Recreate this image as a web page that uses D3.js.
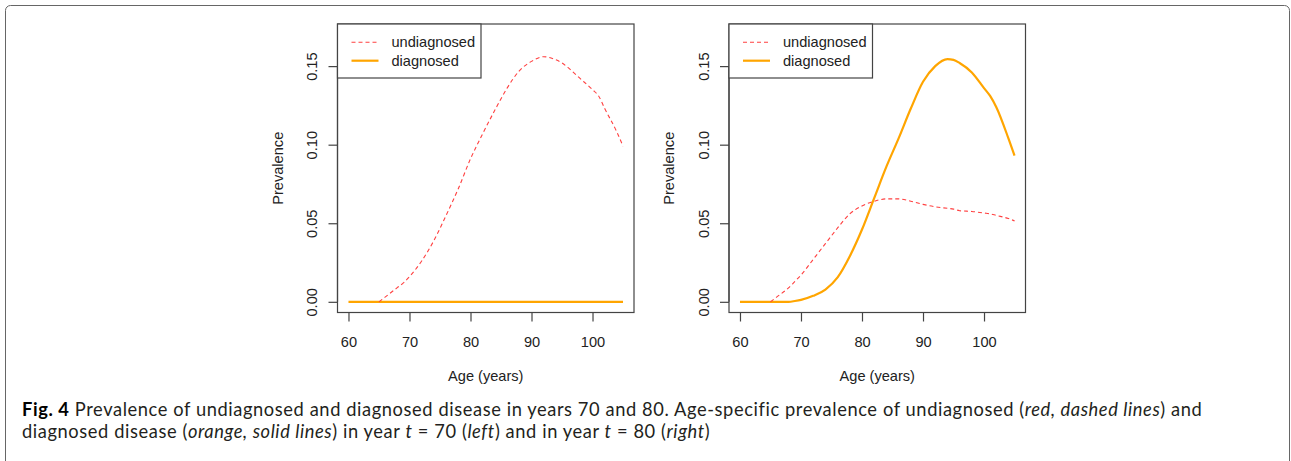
<!DOCTYPE html>
<html>
<head>
<meta charset="utf-8">
<script src="https://cdn.jsdelivr.net/npm/d3@7/dist/d3.min.js"></script>
<style>
  html, body { margin: 0; padding: 0; background: #fff; }
  svg { display: block; }
</style>
</head>
<body>
<svg id="chart" width="1291" height="461"></svg>
<script>
// ---------------- data ----------------
const ages = [60, 62, 64, 65, 66, 68, 69, 70, 72, 74, 76, 78, 80, 82, 84, 86, 88, 90, 92, 94, 95, 96, 98, 100, 101, 102, 104, 105];

// year t = 70 (left panel)
const undiag70 = [0, 0, 0, 0, 0.003, 0.009, 0.012, 0.016, 0.026, 0.039, 0.055, 0.072, 0.091, 0.107, 0.122, 0.136, 0.147, 0.153, 0.156, 0.154, 0.152, 0.149, 0.142, 0.135, 0.131, 0.123, 0.108, 0.099];
const diag70   = [0, 0, 0, 0, 0, 0, 0, 0, 0, 0, 0, 0, 0, 0, 0, 0, 0, 0, 0, 0, 0, 0, 0, 0, 0, 0, 0, 0];

// year t = 80 (right panel)
const undiag80 = [0, 0, 0, 0, 0.003, 0.009, 0.013, 0.017, 0.027, 0.037, 0.047, 0.056, 0.061, 0.064, 0.0655, 0.0655, 0.064, 0.062, 0.0605, 0.0595, 0.059, 0.058, 0.0575, 0.0565, 0.056, 0.055, 0.053, 0.0515];
const diag80   = [0, 0, 0, 0, 0, 0, 0.0005, 0.0012, 0.0038, 0.0078, 0.0155, 0.029, 0.046, 0.066, 0.086, 0.104, 0.123, 0.140, 0.150, 0.1545, 0.154, 0.152, 0.146, 0.136, 0.131, 0.124, 0.104, 0.093];

const xTicks = [60, 70, 80, 90, 100];
const yTicks = [0, 0.05, 0.10, 0.15];
const legendLabels = ["undiagnosed", "diagnosed"];
const xLabel = "Age (years)";
const yLabel = "Prevalence";

// ---------------- drawing ----------------
const svg = d3.select("#chart");
const AX = "#222";
const RED = "#ff4040";
const ORANGE = "#ffa500";
const plotFont = "'Liberation Sans', Arial, sans-serif";
const PFS = 14.6;

// outer frame
svg.append("rect")
  .attr("x", 5.5).attr("y", 5.5)
  .attr("width", 1284).attr("height", 480)
  .attr("rx", 5).attr("ry", 5)
  .attr("fill", "none").attr("stroke", "#666").attr("stroke-width", 1);

function panel(left, undiag, diag) {
  const top = 24, width = 296.5, height = 288.5;
  const right = left + width, bottom = top + height;
  const x = d3.scaleLinear().domain([58.2, 106.8]).range([left, right]);
  const y = d3.scaleLinear().domain([-0.0068, 0.1768]).range([bottom, top]);
  const g = svg.append("g");

  // box
  g.append("rect")
    .attr("x", left).attr("y", top).attr("width", width).attr("height", height)
    .attr("fill", "none").attr("stroke", "#444").attr("stroke-width", 1.2);

  // x axis
  const xAxis = d3.axisBottom(x).tickValues(xTicks).tickSize(9).tickSizeOuter(0)
    .tickFormat(d3.format("d"));
  const gx = g.append("g").attr("transform", `translate(0,${bottom})`).call(xAxis);
  gx.select(".domain").attr("d", `M${x(60)},0H${x(100)}`).attr("stroke", "#444").attr("stroke-width", 1.2);
  gx.selectAll(".tick line").attr("stroke", "#444").attr("stroke-width", 1.2);
  gx.selectAll(".tick text").attr("fill", AX).attr("font-family", plotFont).attr("font-size", PFS)
    .attr("dy", null).attr("y", 346.5 - bottom);

  // y axis
  const yAxis = d3.axisLeft(y).tickValues(yTicks).tickSize(9).tickSizeOuter(0)
    .tickFormat(d3.format(".2f"));
  const gy = g.append("g").attr("transform", `translate(${left},0)`).call(yAxis);
  gy.select(".domain").attr("d", `M0,${y(0)}V${y(0.15)}`).attr("stroke", "#444").attr("stroke-width", 1.2);
  gy.selectAll(".tick line").attr("stroke", "#444").attr("stroke-width", 1.2);
  gy.selectAll(".tick text")
    .attr("fill", AX).attr("font-family", plotFont).attr("font-size", PFS)
    .attr("x", null).attr("dy", null)
    .attr("text-anchor", "middle")
    .attr("transform", "translate(-20.5,0) rotate(-90)")
    .attr("y", 0);

  // axis titles
  g.append("text")
    .attr("x", (left + right) / 2).attr("y", 381)
    .attr("text-anchor", "middle").attr("fill", AX)
    .attr("font-family", plotFont).attr("font-size", PFS)
    .text(xLabel);
  g.append("text")
    .attr("transform", `translate(${left - 55},${(top + bottom) / 2}) rotate(-90)`)
    .attr("text-anchor", "middle").attr("fill", AX)
    .attr("font-family", plotFont).attr("font-size", PFS)
    .text(yLabel);

  // lines
  const line = d3.line().x(d => x(d[0])).y(d => y(d[1])).curve(d3.curveMonotoneX);
  g.append("path")
    .datum(ages.map((a, i) => [a, diag[i]]))
    .attr("d", line).attr("fill", "none")
    .attr("stroke", ORANGE).attr("stroke-width", 2.2);
  // undiagnosed dashed: visible part (from age 65 where it leaves zero)
  g.append("path")
    .datum(ages.map((a, i) => [a, undiag[i]]).filter(d => d[0] >= 65))
    .attr("d", line).attr("fill", "none")
    .attr("stroke", RED).attr("stroke-width", 1.1)
    .attr("stroke-dasharray", "4,3");

  // legend
  const lw = 143.5, lh = 54;
  const lg = g.append("g");
  lg.append("rect")
    .attr("x", left).attr("y", top).attr("width", lw).attr("height", lh)
    .attr("fill", "#fff").attr("stroke", "#444").attr("stroke-width", 1.2);
  const rows = [
    { label: legendLabels[0], color: RED, w: 1.1, dash: "4,3" },
    { label: legendLabels[1], color: ORANGE, w: 2.2, dash: null }
  ];
  const rowY = [top + 18.3, top + 36.7];
  rows.forEach((r, i) => {
    lg.append("line")
      .attr("x1", left + 14).attr("x2", left + 41)
      .attr("y1", rowY[i]).attr("y2", rowY[i])
      .attr("stroke", r.color).attr("stroke-width", r.w)
      .attr("stroke-dasharray", r.dash);
    lg.append("text")
      .attr("x", left + 54).attr("y", rowY[i] + 5)
      .attr("fill", AX).attr("font-family", plotFont).attr("font-size", PFS)
      .text(r.label);
  });
}

panel(337.5, undiag70, diag70);
panel(729, undiag80, diag80);

// ---------------- caption ----------------
const capFont = "Lato, 'Open Sans', sans-serif";
const capLines = [
  [["Fig. 4", "b"], [" Prevalence of undiagnosed and diagnosed disease in years 70 and 80. Age-specific prevalence of undiagnosed (", "n"], ["red, dashed lines", "i"], [") and", "n"]],
  [["diagnosed disease (", "n"], ["orange, solid lines", "i"], [") in year ", "n"], ["t", "i"], [" = 70 (", "n"], ["left", "i"], [") and in year ", "n"], ["t", "i"], [" = 80 (", "n"], ["right", "i"], [")", "n"]]
];
const capY = [415.7, 437.7];
const capFS = 18.3;
const capTexts = capLines.map((parts, li) => {
  const t = svg.append("text")
    .attr("x", 22).attr("y", capY[li])
    .attr("font-family", capFont).attr("font-size", capFS).attr("fill", "#231f20")
    .style("white-space", "pre");
  parts.forEach(([s, k]) => {
    const ts = t.append("tspan").text(s);
    if (k === "b") ts.attr("font-weight", "bold").attr("fill", "#000");
    if (k === "i") ts.attr("font-style", "italic");
  });
  return t;
});
// widen letter spacing so the first line spans the same width as in the figure
const w1 = capTexts[0].node().getComputedTextLength();
const n1 = capTexts[0].text().length;
const ls = Math.max(0, (1180 - w1) / n1);
capTexts.forEach(t => t.attr("letter-spacing", ls.toFixed(3)));
</script>
</body>
</html>
